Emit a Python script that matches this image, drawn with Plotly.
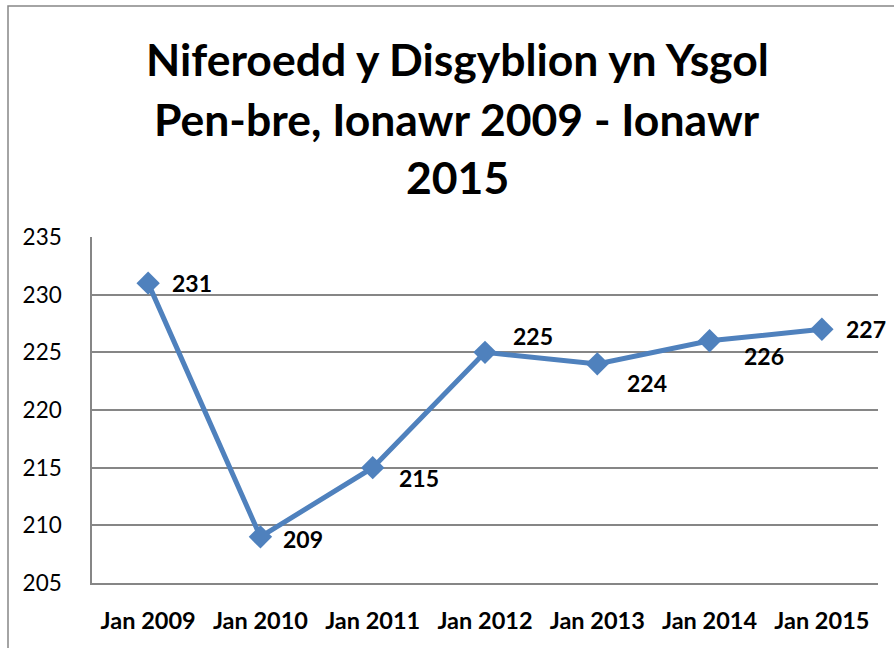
import plotly.graph_objects as go

categories = ["Jan 2009", "Jan 2010", "Jan 2011", "Jan 2012", "Jan 2013", "Jan 2014", "Jan 2015"]
pupils = [231, 209, 215, 225, 224, 226, 227]
y_ticks = [205, 210, 215, 220, 225, 230, 235]
title_lines = ["Niferoedd y Disgyblion yn Ysgol", "Pen-bre, Ionawr 2009 - Ionawr", "2015"]

# label offsets in pixels (dx, dy down-positive) – styling only
label_dx = [44, 43, 46, 48, 50, 54, 44]
label_dy = [0, 2, 10, -16, 19, 15, 0]

FONT = "Lato"
GRID = "#868686"

fig = go.Figure()
fig.add_trace(go.Scatter(
    x=categories, y=pupils, mode="lines+markers",
    line=dict(color="#4F81BD", width=5),
    marker=dict(symbol="diamond", size=18, color="#4F81BD"),
    showlegend=False, hoverinfo="x+y",
))

annotations = []
for c, v, dx, dy in zip(categories, pupils, label_dx, label_dy):
    annotations.append(dict(
        x=c, y=v, xref="x", yref="y", text=f"<b>{v}</b>", showarrow=False,
        xshift=dx, yshift=-dy, font=dict(family=FONT, size=23, color="black"),
    ))

L, R, T, B = 92, 16, 237, 65
W, H = 894, 648
pw, ph = W - L - R, H - T - B
title_y_px = [58, 118, 176]
for line, ypx in zip(title_lines, title_y_px):
    annotations.append(dict(
        xref="paper", yref="paper", x=(457 - L) / pw, y=(H - B - ypx) / ph,
        xanchor="center", yanchor="middle", showarrow=False,
        text=f"<b>{line}</b>", font=dict(family=FONT, size=44.5, color="black"),
    ))

fig.update_layout(
    width=W, height=H,
    margin=dict(l=L, r=R, t=T, b=B, pad=0),
    paper_bgcolor="white", plot_bgcolor="white",
    annotations=annotations,
    font=dict(family=FONT, color="black"),
    shapes=[dict(
        type="rect", xref="paper", yref="paper",
        x0=(8 - L) / pw, x1=(W + 20 - L) / pw,
        y0=(H - B - (H + 20)) / ph, y1=(H - B - 6) / ph,
        line=dict(color=GRID, width=1.5), fillcolor="rgba(0,0,0,0)", layer="below",
    )],
)
fig.update_xaxes(
    type="category", range=[-0.5, 6.5], showgrid=False, zeroline=False,
    showline=True, linecolor=GRID, linewidth=1.5, ticks="",
    tickfont=dict(family=FONT, size=23.5, color="black", weight="bold"),
    ticklabelstandoff=16,
)
fig.update_yaxes(
    range=[205, 235], tickvals=y_ticks, showgrid=True, gridcolor=GRID, gridwidth=1.5,
    zeroline=False, showline=True, linecolor=GRID, linewidth=1.5, ticks="",
    tickfont=dict(family=FONT, size=22.5, color="black"),
    ticklabelstandoff=24,
)

fig.write_html("out.html", config={"displayModeBar": False},
               post_script="document.body.style.margin='0';")
